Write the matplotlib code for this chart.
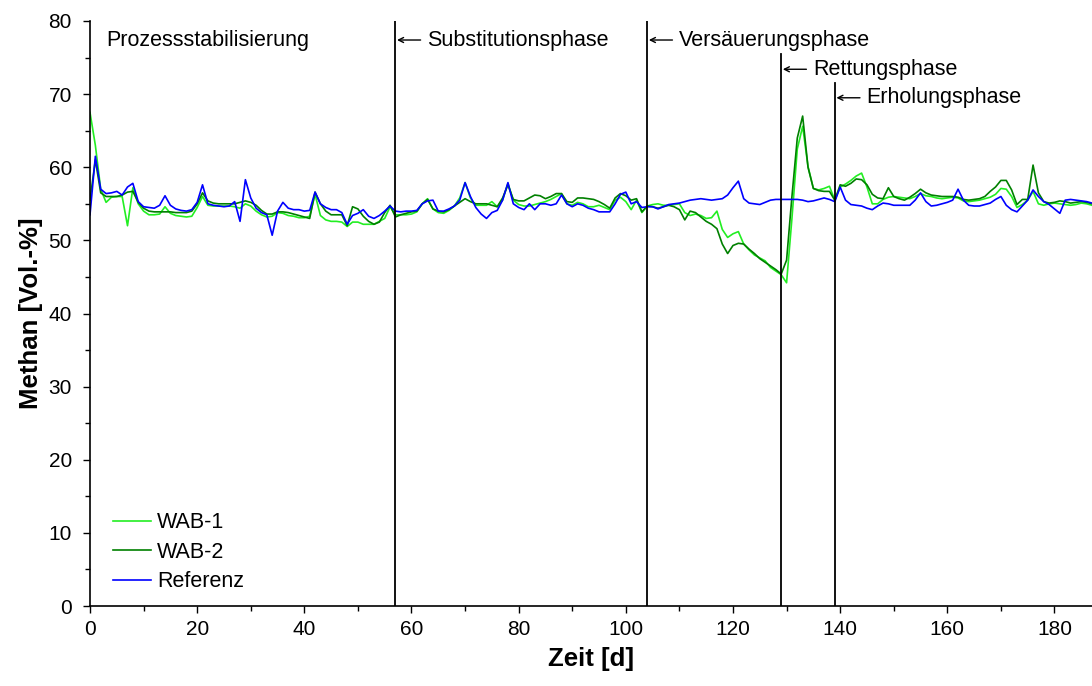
import matplotlib
matplotlib.use("Agg")
import matplotlib.pyplot as plt
from matplotlib.ticker import MultipleLocator
import numpy as np

plt.rcParams['font.family'] = ['Liberation Sans', 'DejaVu Sans']

# Tagesmittelwerte Methangehalt [Vol.-%], Tag 0 bis 187
zeit = np.arange(0, 188)

wab1 = [
    67.5, 63.0, 57.0, 55.2, 55.9, 56.0, 56.0, 52.0, 57.2, 55.0,
    54.0, 53.5, 53.5, 53.6, 54.6, 53.7, 53.4, 53.3, 53.2, 53.3,
    54.5, 56.0, 54.8, 54.7, 54.7, 54.7, 54.7, 54.6, 54.4, 55.0,
    54.7, 54.0, 53.5, 53.2, 53.3, 53.8, 53.7, 53.4, 53.3, 53.1,
    53.1, 53.3, 56.3, 53.4, 52.8, 52.6, 52.6, 52.5, 51.9, 52.5,
    52.5, 52.2, 52.2, 52.2, 52.6, 53.0, 54.6, 53.5, 53.5, 53.5,
    53.6, 53.9, 55.0, 55.7, 54.3, 53.8, 53.7, 54.1, 54.7, 55.8,
    57.9, 55.8, 54.8, 54.8, 54.8, 55.3, 54.6, 55.5, 57.8, 55.5,
    54.9, 54.7, 54.7, 54.9, 55.1, 55.3, 55.6, 56.0, 56.4, 55.0,
    54.8, 55.2, 55.0, 54.6, 54.6, 54.8, 54.5, 54.2, 55.5, 55.9,
    55.3, 54.2, 55.5, 53.8, 54.7, 54.9, 55.0, 54.8, 54.8, 54.9,
    55.0, 53.8, 53.4, 53.6, 53.4, 53.0, 53.1, 54.0, 51.5, 50.4,
    50.9, 51.2, 49.5, 48.7, 48.0, 47.6, 47.2, 46.3, 45.8, 45.3,
    44.2, 53.0, 62.5, 65.6, 60.1, 57.1, 56.9, 57.1, 57.4, 55.5,
    57.3, 57.7, 58.2, 58.8, 59.2, 57.3, 55.0, 55.0, 55.6, 55.9,
    56.0, 55.9, 55.8, 55.7, 56.0, 56.4, 56.1, 56.0, 55.8, 55.7,
    55.8, 55.9, 55.8, 55.4, 55.3, 55.4, 55.5, 55.7, 55.9, 56.3,
    57.1, 57.0, 56.0, 54.5, 54.9, 55.5, 56.7, 55.0, 54.8, 55.0,
    55.1, 55.0, 54.9, 54.8, 54.9, 55.1, 55.0, 54.8,
]

wab2 = [
    55.5, 61.0, 56.5, 56.0, 56.0, 56.0, 56.2, 56.6, 56.7, 55.2,
    54.4, 54.0, 53.9, 53.9, 53.9, 53.9, 53.8, 53.8, 53.8, 54.0,
    55.0, 56.5, 55.4, 55.1, 55.0, 55.0, 55.0, 55.0, 55.2, 55.4,
    55.2, 54.8, 54.1, 53.6, 53.6, 53.9, 53.9, 53.8, 53.6, 53.4,
    53.2, 53.0, 56.6, 55.0, 54.0, 53.5, 53.5, 53.5, 52.0, 54.6,
    54.3, 53.3, 52.6, 52.2, 52.5, 53.8, 54.8, 53.2, 53.5, 53.7,
    53.9, 54.0, 55.0, 55.6, 54.3, 54.0, 53.9, 54.2, 54.7, 55.2,
    55.7, 55.3, 55.0, 55.0, 55.0, 54.8, 54.6, 55.8, 57.6, 55.6,
    55.4, 55.4, 55.8, 56.2, 56.1, 55.7, 56.0, 56.4, 56.4, 55.3,
    55.2, 55.8, 55.8, 55.7, 55.6, 55.3, 54.9, 54.4, 55.8, 56.4,
    56.1, 55.5, 55.7, 53.9, 54.7, 54.6, 54.4, 54.6, 54.8, 54.6,
    54.2, 52.8, 54.0, 53.8, 53.2, 52.6, 52.2, 51.6, 49.5, 48.2,
    49.3, 49.6, 49.5, 48.8, 48.2, 47.5, 47.0, 46.5, 46.0, 45.4,
    47.3, 56.0, 64.0, 67.0, 60.0, 57.1, 56.8, 56.7, 56.7, 55.5,
    57.6, 57.4, 57.8, 58.4, 58.3, 57.6, 56.3, 55.8, 55.7, 57.2,
    56.0, 55.7, 55.5, 55.9, 56.4, 57.0, 56.5, 56.2, 56.1, 56.0,
    56.0, 56.0, 55.9, 55.6, 55.5, 55.6, 55.7, 56.0, 56.7, 57.3,
    58.2, 58.2, 56.9, 54.9, 55.6, 55.6, 60.3, 56.5, 55.3, 55.1,
    55.2, 55.4, 55.3, 55.1, 55.2, 55.3, 55.2, 55.0,
]

referenz = [
    53.5, 61.5, 57.0, 56.4, 56.5, 56.7, 56.2, 57.3, 57.8, 55.3,
    54.6, 54.5, 54.4, 54.8, 56.1, 54.8, 54.3, 54.1, 54.0, 54.2,
    55.2, 57.6, 55.0, 54.8, 54.7, 54.6, 54.7, 55.3, 52.6, 58.3,
    55.8, 54.4, 53.8, 53.5, 50.7, 54.0, 55.2, 54.4, 54.2, 54.2,
    54.0, 54.1, 56.6, 55.0, 54.5, 54.2, 54.2, 53.8, 52.2, 53.4,
    53.7, 54.2, 53.3, 53.0, 53.4, 54.0, 54.7, 54.0, 53.9, 54.0,
    54.0, 54.1, 55.0, 55.4, 55.5, 54.0, 54.0, 54.3, 54.7, 55.5,
    57.9, 56.0, 54.5, 53.6, 53.0, 53.8, 54.1, 55.5, 57.9, 55.0,
    54.5, 54.2, 55.0, 54.2, 55.0, 55.0, 54.8, 55.0, 56.2, 55.0,
    54.6, 55.0, 54.8, 54.4, 54.2, 53.9, 53.9, 53.9, 55.0, 56.3,
    56.6, 55.0, 55.3, 54.5, 54.6, 54.6, 54.3, 54.6, 54.9, 55.0,
    55.1, 55.3, 55.5, 55.6, 55.7, 55.6, 55.5, 55.6, 55.7, 56.2,
    57.2, 58.1, 55.7, 55.1, 55.0, 54.9, 55.2, 55.5, 55.6, 55.6,
    55.6, 55.6, 55.6, 55.5, 55.3, 55.4, 55.6, 55.8, 55.6, 55.3,
    57.3, 55.5, 54.9, 54.8, 54.7, 54.4, 54.2, 54.7, 55.1, 55.0,
    54.8, 54.8, 54.8, 54.8, 55.5, 56.5, 55.3, 54.7, 54.8, 55.0,
    55.2, 55.5, 57.0, 55.5, 54.8, 54.7, 54.7, 54.9, 55.1, 55.6,
    56.0, 54.8, 54.2, 53.9, 54.7, 55.5, 56.9, 56.0, 55.3, 54.9,
    54.3, 53.7, 55.5, 55.6, 55.5, 55.4, 55.3, 55.1,
]

# Phasenwechsel: Tag, Beschriftung, Oberkante der Linie, Höhe des Textes
phasen_tag = [57, 104, 129, 139]
phasen_name = ['Substitutionsphase', 'Versäuerungsphase', 'Rettungsphase', 'Erholungsphase']
phasen_top = [80, 80, 75.5, 71.5]
phasen_text_y = [77.4, 77.4, 73.4, 69.5]

fig = plt.figure(figsize=(10.92, 6.86), dpi=100)
ax = fig.add_axes([90 / 1092, 80 / 686, 1002 / 1092, 585 / 686])

ax.plot(zeit, wab1, color='#22ee22', lw=1.2, label='WAB-1')
ax.plot(zeit, wab2, color='#008000', lw=1.2, label='WAB-2')
ax.plot(zeit, referenz, color='#0000ff', lw=1.2, label='Referenz')

for tag, name, top, ty in zip(phasen_tag, phasen_name, phasen_top, phasen_text_y):
    ax.plot([tag, tag], [0, top], color='black', lw=1.3)
    ax.annotate('', xy=(tag + 0.3, ty), xytext=(tag + 4.7, ty),
                arrowprops=dict(arrowstyle='->', lw=1.0, color='black',
                                shrinkA=0, shrinkB=0, mutation_scale=9))
    ax.text(tag + 5.9, ty, name, fontsize=15.5, va='center', ha='left')

ax.text(3.1, 77.4, 'Prozessstabilisierung', fontsize=15.5, va='center', ha='left')

ax.set_xlim(0, 187)
ax.set_ylim(0, 80)
ax.xaxis.set_major_locator(MultipleLocator(20))
ax.xaxis.set_minor_locator(MultipleLocator(10))
ax.yaxis.set_major_locator(MultipleLocator(10))
ax.yaxis.set_minor_locator(MultipleLocator(5))
ax.tick_params(which='major', direction='out', length=5, width=1, labelsize=15, pad=5)
ax.tick_params(axis='y', which='major', pad=8)
ax.tick_params(which='minor', direction='out', length=3.5, width=1)
ax.spines['top'].set_visible(False)
ax.spines['right'].set_visible(False)
ax.spines['left'].set_linewidth(1.2)
ax.spines['bottom'].set_linewidth(1.2)

ax.set_xlabel('Zeit [d]', fontsize=18.5, fontweight='bold', labelpad=6)
ax.set_ylabel('Methan [Vol.-%]', fontsize=18.5, fontweight='bold', labelpad=4)

ax.legend(loc='lower left', bbox_to_anchor=(0.011, 0.003), frameon=False, fontsize=15.5,
          handlelength=1.75, handletextpad=0.3, labelspacing=0.4, borderaxespad=0.15)

fig.savefig('out.png', dpi=100)
